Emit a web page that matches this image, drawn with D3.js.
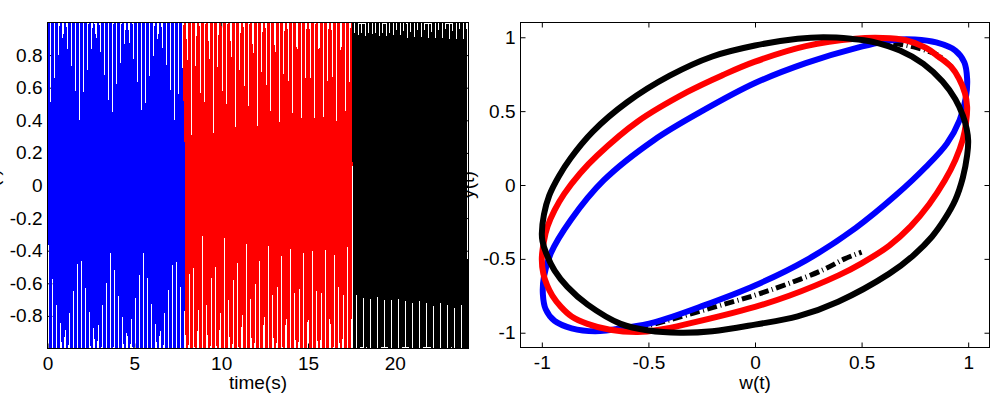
<!DOCTYPE html>
<html>
<head>
<meta charset="utf-8">
<script src="https://cdn.jsdelivr.net/npm/d3@7/dist/d3.min.js"></script>
<style>
  body { margin: 0; background: #fff; }
  text { font-family: "Liberation Sans", Arial, sans-serif; }
</style>
</head>
<body>
<svg id="chart" width="993" height="399"></svg>
<script>
// left panel: input signal in three stretches
var timeTicks = [0, 5, 10, 15, 20];
var inputTicks = [-0.8, -0.6, -0.4, -0.2, 0, 0.2, 0.4, 0.6, 0.8];
var timeDomain = [0, 24.24];
var inputDomain = [-1, 1];

var segmentColors = ['#0000ff', '#ff0000', '#000000'];
var segmentStart = [0, 7.87, 17.59];
var segmentEnd = [7.87, 17.59, 24.16];
var segmentFreq = [4.205, 3.95, 4.96]; // Hz of the sine input in each stretch
var sampleStep = 0.01;

// right panel: y(t) against w(t)
var loopTicks = [-1, -0.5, 0, 0.5, 1];
var loopDomain = [-1.1, 1.1];

// dash-dot reference, only the stretches that show outside the loops
var refLower = [[-0.55, -0.97], [-0.43, -0.925], [-0.2, -0.83], [0, -0.746], [0.16, -0.666],
  [0.317, -0.576], [0.42, -0.5], [0.5, -0.455]];
var refUpper = [[0.92, 0.8], [0.862, 0.875], [0.815, 0.905], [0.744, 0.935], [0.674, 0.955],
  [0.6, 0.968], [0.55, 0.972]];

var blueLoop = [[-0.75, -0.99], [-0.6, -0.965], [-0.473, -0.93], [-0.239, -0.815], [0, -0.68],
  [0.239, -0.51], [0.473, -0.29], [0.66, -0.07], [0.8, 0.12], [0.9, 0.28], [0.96, 0.44],
  [0.99, 0.6], [0.995, 0.72], [0.982, 0.83], [0.94, 0.91], [0.85, 0.965], [0.75, 0.985],
  [0.66, 0.983], [0.473, 0.927], [0.238, 0.825], [0, 0.69], [-0.239, 0.508], [-0.473, 0.305],
  [-0.708, 0.034], [-0.864, -0.237], [-0.958, -0.463], [-0.99, -0.62], [-0.995, -0.74],
  [-0.982, -0.84], [-0.94, -0.92], [-0.86, -0.97]];

var redLoop = [[-1.0, -0.5], [-0.99, -0.38], [-0.973, -0.28], [-0.94, -0.17], [-0.895, -0.06],
  [-0.82, 0.08], [-0.74, 0.2], [-0.55, 0.43], [-0.317, 0.63], [-0.15, 0.745], [0, 0.835],
  [0.238, 0.94], [0.47, 0.99], [0.6, 0.995], [0.707, 0.98], [0.8, 0.93], [0.86, 0.87],
  [0.92, 0.8], [0.957, 0.72], [0.985, 0.62], [0.995, 0.53], [0.99, 0.42], [0.975, 0.31],
  [0.94, 0.17], [0.89, 0.03], [0.817, -0.13], [0.73, -0.28], [0.63, -0.41], [0.5, -0.53],
  [0.394, -0.61], [0.16, -0.75], [0, -0.825], [-0.317, -0.94], [-0.45, -0.98], [-0.55, -0.995],
  [-0.68, -0.98], [-0.786, -0.94], [-0.86, -0.89], [-0.91, -0.825], [-0.95, -0.75],
  [-0.975, -0.68], [-0.993, -0.6]];

var blackLoop = [[-1.0, -0.33], [-0.99, -0.2], [-0.965, -0.07], [-0.92, 0.06], [-0.866, 0.18],
  [-0.762, 0.36], [-0.6, 0.56], [-0.4, 0.74], [-0.2, 0.87], [0, 0.944], [0.2, 0.99], [0.32, 1.0],
  [0.45, 0.99], [0.55, 0.97], [0.68, 0.91], [0.79, 0.82], [0.88, 0.7], [0.94, 0.58],
  [0.975, 0.47], [0.993, 0.38], [1.0, 0.3], [0.995, 0.2], [0.975, 0.05], [0.94, -0.1],
  [0.89, -0.23], [0.83, -0.35], [0.74, -0.48], [0.63, -0.6], [0.39, -0.79], [0.2, -0.89],
  [0, -0.945], [-0.2, -0.99], [-0.35, -1.0], [-0.5, -0.985], [-0.63, -0.94], [-0.785, -0.81],
  [-0.88, -0.69], [-0.94, -0.58], [-0.98, -0.46], [-0.997, -0.38]];

var loops = [
  { pts: blueLoop, color: '#0000ff' },
  { pts: redLoop, color: '#ff0000' },
  { pts: blackLoop, color: '#000000' }
];

var svg = d3.select('#chart');
var fontSize = 19;
var tickLen = 5;

function noLabels() { return ''; }

function drawFrame(g, x, y, xTicks, yTicks, fmt) {
  g.append('g')
    .attr('transform', 'translate(0,' + y.range()[0] + ')')
    .call(d3.axisBottom(x).tickValues(xTicks).tickSizeInner(-tickLen).tickSizeOuter(0).tickPadding(8).tickFormat(fmt));
  g.append('g')
    .attr('transform', 'translate(0,' + y.range()[1] + ')')
    .call(d3.axisTop(x).tickValues(xTicks).tickSizeInner(-tickLen).tickSizeOuter(0).tickFormat(noLabels));
  g.append('g')
    .attr('transform', 'translate(' + x.range()[0] + ',0)')
    .call(d3.axisLeft(y).tickValues(yTicks).tickSizeInner(-tickLen).tickSizeOuter(0).tickPadding(5).tickFormat(fmt));
  g.append('g')
    .attr('transform', 'translate(' + x.range()[1] + ',0)')
    .call(d3.axisRight(y).tickValues(yTicks).tickSizeInner(-tickLen).tickSizeOuter(0).tickFormat(noLabels));
  g.selectAll('.domain').remove();
  g.selectAll('.tick line').attr('stroke', '#000');
  g.selectAll('.tick text')
    .attr('fill', '#000')
    .style('font-size', fontSize + 'px')
    .style('font-family', '"Liberation Sans", Arial, sans-serif');
}

function drawBox(g, x, y) {
  g.append('rect')
    .attr('x', x.range()[0])
    .attr('y', y.range()[1])
    .attr('width', x.range()[1] - x.range()[0])
    .attr('height', y.range()[0] - y.range()[1])
    .attr('fill', 'none')
    .attr('stroke', '#000')
    .attr('stroke-width', 1);
}

function fmtTick(d) {
  return String(+d.toFixed(2));
}

// ---- right panel ----
var xr = d3.scaleLinear().domain(loopDomain).range([520.5, 989.5]);
var yr = d3.scaleLinear().domain(loopDomain).range([347.5, 22.5]);
var right = svg.append('g');
drawFrame(right, xr, yr, loopTicks, loopTicks, fmtTick);

right.append('text')
  .attr('transform', 'translate(474,185) rotate(-90)')
  .attr('text-anchor', 'middle')
  .style('font-size', fontSize + 'px')
  .text('y(t)');
right.append('text')
  .attr('x', 755).attr('y', 389)
  .attr('text-anchor', 'middle')
  .style('font-size', fontSize + 'px')
  .text('w(t)');

var loopLine = d3.line()
  .x(function (d) { return xr(d[0]); })
  .y(function (d) { return yr(d[1]); });

right.selectAll('.ref')
  .data([refLower, refUpper])
  .enter()
  .append('path')
  .attr('class', 'ref')
  .attr('d', loopLine.curve(d3.curveCatmullRom.alpha(0.5)))
  .attr('fill', 'none')
  .attr('stroke', '#000')
  .attr('stroke-width', 5)
  .attr('stroke-dasharray', '10,3.5,1,3.5');

right.selectAll('.loop')
  .data(loops)
  .enter()
  .append('path')
  .attr('class', 'loop')
  .attr('d', function (d) { return loopLine.curve(d3.curveCatmullRomClosed.alpha(0.5))(d.pts); })
  .attr('fill', 'none')
  .attr('stroke', function (d) { return d.color; })
  .attr('stroke-width', 6)
  .attr('stroke-linejoin', 'round');

drawBox(right, xr, yr);

// ---- left panel ----
var xl = d3.scaleLinear().domain(timeDomain).range([47.5, 468.5]);
var yl = d3.scaleLinear().domain(inputDomain).range([348.5, 22.5]);
var left = svg.append('g');
drawFrame(left, xl, yl, timeTicks, inputTicks, fmtTick);

left.append('text')
  .attr('x', 258).attr('y', 389)
  .attr('text-anchor', 'middle')
  .style('font-size', fontSize + 'px')
  .text('time(s)');
left.append('text')
  .attr('transform', 'translate(-1,185) rotate(-90)')
  .attr('text-anchor', 'middle')
  .style('font-size', fontSize + 'px')
  .text('w(t)');

svg.append('clipPath').attr('id', 'leftClip')
  .append('rect')
  .attr('x', 47.5).attr('y', 22.5)
  .attr('width', 421).attr('height', 326);

var segments = segmentColors.map(function (c, i) {
  var pts = [];
  for (var t = segmentStart[i]; t <= segmentEnd[i] + 1e-9; t += sampleStep) {
    pts.push([t, Math.sin(2 * Math.PI * segmentFreq[i] * t)]);
  }
  return { color: c, pts: pts };
});

var signalLine = d3.line()
  .x(function (d) { return xl(d[0]); })
  .y(function (d) { return yl(d[1]); });

left.append('g')
  .attr('clip-path', 'url(#leftClip)')
  .selectAll('path')
  .data(segments)
  .enter()
  .append('path')
  .attr('d', function (d) { return signalLine(d.pts); })
  .attr('fill', 'none')
  .attr('stroke', function (d) { return d.color; })
  .attr('stroke-width', 2.6)
  .attr('shape-rendering', 'crispEdges');

drawBox(left, xl, yl);
</script>
</body>
</html>
